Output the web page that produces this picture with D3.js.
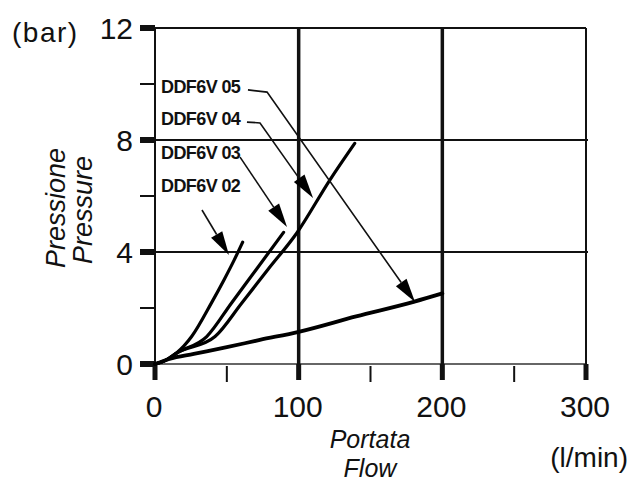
<!DOCTYPE html>
<html>
<head>
<meta charset="utf-8">
<script src="https://cdn.jsdelivr.net/npm/d3@7"></script>
<style>
  html,body{margin:0;padding:0;background:#fff;}
  svg{display:block;}
  text{font-family:"Liberation Sans",Arial,Helvetica,sans-serif;fill:#111;}
  .tick-lbl{font-size:30px;}
  .ax-ttl{font-size:25px;font-style:italic;}
  .ax-ttl.v{font-size:27px;}
  .unit{font-size:28px;}
  .series-lbl{font-size:18px;font-weight:bold;letter-spacing:-0.6px;}
</style>
</head>
<body>
<svg id="chart" width="630" height="482"></svg>
<script>
/* Perdita di carico DDF6V: pressione (bar) vs portata (l/min) */

const X_MAJOR = [0, 100, 200, 300];
const X_MINOR = [50, 150, 250];
const Y_MAJOR = [0, 4, 8, 12];
const Y_MINOR = [2, 6, 10];

const SERIES = ["DDF6V 02", "DDF6V 03", "DDF6V 04", "DDF6V 05"];
const FLOW_02 = [0, 8, 15, 25.5, 39.5, 48, 55, 61];
const PRES_02 = [0, 0.15, 0.39, 0.98, 2.2, 3.0, 3.7, 4.35];
const FLOW_03 = [0, 8, 15, 36, 53.4, 71, 89.5];
const PRES_03 = [0, 0.15, 0.39, 0.98, 2.19, 3.41, 4.7];
const FLOW_04 = [0, 8, 15, 41.8, 60.3, 79, 98.6, 121.8, 139];
const PRES_04 = [0, 0.15, 0.39, 0.98, 2.17, 3.4, 4.67, 6.58, 7.88];
const FLOW_05 = [0, 10, 27, 50, 73, 100, 140, 180, 200];
const PRES_05 = [0, 0.18, 0.36, 0.6, 0.86, 1.15, 1.7, 2.22, 2.52];

/* etichette: posizione del testo e percorso della freccia (in unità dati) */
const LABEL_AT = [[4.2, 6.14], [4.2, 7.32], [4.2, 8.54], [4.2, 9.68]];
const LEADERS = [
  [[32.7, 5.5], [51.5, 3.89]],
  [[59.2, 7.39], [91.9, 4.89]],
  [[64, 8.64], [73.1, 8.61], [110, 5.93]],
  [[64.7, 9.79], [78, 9.71], [181, 2.21]]
];

const svg = d3.select("#chart");
const x = d3.scaleLinear().domain([0, 300]).range([155, 586]);
const y = d3.scaleLinear().domain([0, 12]).range([364, 28]);

/* ---------------- griglia ---------------- */
const g = svg.append("g");
// asse x (grigio)
g.append("line").attr("x1", x(0)).attr("x2", x(300)).attr("y1", y(0)).attr("y2", y(0))
  .attr("stroke", "#666").attr("stroke-width", 2);
// orizzontali a 4, 8, 12
[4, 8, 12].forEach(v => g.append("line")
  .attr("x1", x(0)).attr("x2", x(300) + (v === 12 ? 0 : 2)).attr("y1", y(v)).attr("y2", y(v))
  .attr("stroke", "#111").attr("stroke-width", 2));
// verticali
g.append("line").attr("x1", x(0)).attr("x2", x(0)).attr("y1", y(12)).attr("y2", y(0) + 16)
  .attr("stroke", "#111").attr("stroke-width", 2);
[100, 200].forEach(v => g.append("line")
  .attr("x1", x(v)).attr("x2", x(v)).attr("y1", y(12)).attr("y2", y(0))
  .attr("stroke", "#111").attr("stroke-width", 3.5));
g.append("line").attr("x1", x(300)).attr("x2", x(300)).attr("y1", y(12)).attr("y2", y(0))
  .attr("stroke", "#111").attr("stroke-width", 2);

/* ---------------- tacche ---------------- */
g.selectAll(".ymaj").data(Y_MAJOR).join("rect")
  .attr("x", x(0) - 15).attr("y", d => y(d) - 3).attr("width", 15).attr("height", 6).attr("fill", "#111");
g.selectAll(".ymin").data(Y_MINOR).join("line")
  .attr("x1", x(0) - 15).attr("x2", x(0)).attr("y1", d => y(d)).attr("y2", d => y(d))
  .attr("stroke", "#111").attr("stroke-width", 2);
g.selectAll(".xmaj").data(X_MAJOR).join("rect")
  .attr("x", d => x(d) - 2.5).attr("y", y(0)).attr("width", 5).attr("height", 16).attr("fill", "#111");
g.selectAll(".xmin").data(X_MINOR).join("line")
  .attr("x1", d => x(d)).attr("x2", d => x(d)).attr("y1", y(0) + 2).attr("y2", y(0) + 18)
  .attr("stroke", "#111").attr("stroke-width", 2);

/* ---------------- etichette assi ---------------- */
g.selectAll(".ylbl").data(Y_MAJOR).join("text").attr("class", "tick-lbl")
  .attr("x", 133).attr("y", d => y(d)).attr("dy", "0.36em").attr("text-anchor", "end").text(d => d);
g.selectAll(".xlbl").data(X_MAJOR).join("text").attr("class", "tick-lbl")
  .attr("x", d => x(d) - 1).attr("y", 417).attr("text-anchor", "middle").text(d => d);

svg.append("text").attr("class", "unit").attr("x", 12).attr("y", 42)
  .attr("letter-spacing", "1.5px").text("(bar)");
svg.append("text").attr("class", "unit").attr("x", 628).attr("y", 467)
  .attr("text-anchor", "end").text("(l/min)");
svg.append("text").attr("class", "ax-ttl").attr("x", 370).attr("y", 447.5)
  .attr("text-anchor", "middle").text("Portata");
svg.append("text").attr("class", "ax-ttl").attr("x", 370).attr("y", 476.5)
  .attr("text-anchor", "middle").text("Flow");
svg.append("text").attr("class", "ax-ttl v").attr("transform", "translate(65,208) rotate(-90)")
  .attr("text-anchor", "middle").text("Pressione");
svg.append("text").attr("class", "ax-ttl v").attr("transform", "translate(92,210) rotate(-90)")
  .attr("text-anchor", "middle").text("Pressure");

/* ---------------- curve ---------------- */
const curves = [[FLOW_02, PRES_02], [FLOW_03, PRES_03], [FLOW_04, PRES_04], [FLOW_05, PRES_05]]
  .map(([f, p]) => f.map((v, i) => [v, p[i]]));
const line = d3.line().x(d => x(d[0])).y(d => y(d[1])).curve(d3.curveMonotoneX);
svg.append("g").selectAll("path").data(curves).join("path")
  .attr("d", line).attr("fill", "none").attr("stroke", "#000")
  .attr("stroke-width", (d, i) => i === 3 ? 3.8 : 3.2).attr("stroke-linecap", "round");

/* ---------------- frecce ed etichette serie ---------------- */
const lg = svg.append("g");
lg.selectAll("text").data(SERIES).join("text").attr("class", "series-lbl")
  .attr("x", (d, i) => x(LABEL_AT[i][0])).attr("y", (d, i) => y(LABEL_AT[i][1])).text(d => d);

const leader = d3.line().x(d => x(d[0])).y(d => y(d[1]));
LEADERS.forEach(pts => {
  const px = pts.map(p => [x(p[0]), y(p[1])]);
  const [a, b] = px.slice(-2);
  const ang = Math.atan2(b[1] - a[1], b[0] - a[0]);
  const L = 24, W = 6.5;
  const bx = b[0] - L * Math.cos(ang), by = b[1] - L * Math.sin(ang);
  // linea fino alla base della punta
  lg.append("path").attr("d", leader(pts.slice(0, -1).concat([[x.invert(bx), y.invert(by)]])))
    .attr("fill", "none").attr("stroke", "#111").attr("stroke-width", 1.6);
  const nx = -Math.sin(ang), ny = Math.cos(ang);
  lg.append("path")
    .attr("d", `M${b[0]},${b[1]} L${bx + nx * W},${by + ny * W} L${bx - nx * W},${by - ny * W} Z`)
    .attr("fill", "#000");
});
</script>
</body>
</html>
